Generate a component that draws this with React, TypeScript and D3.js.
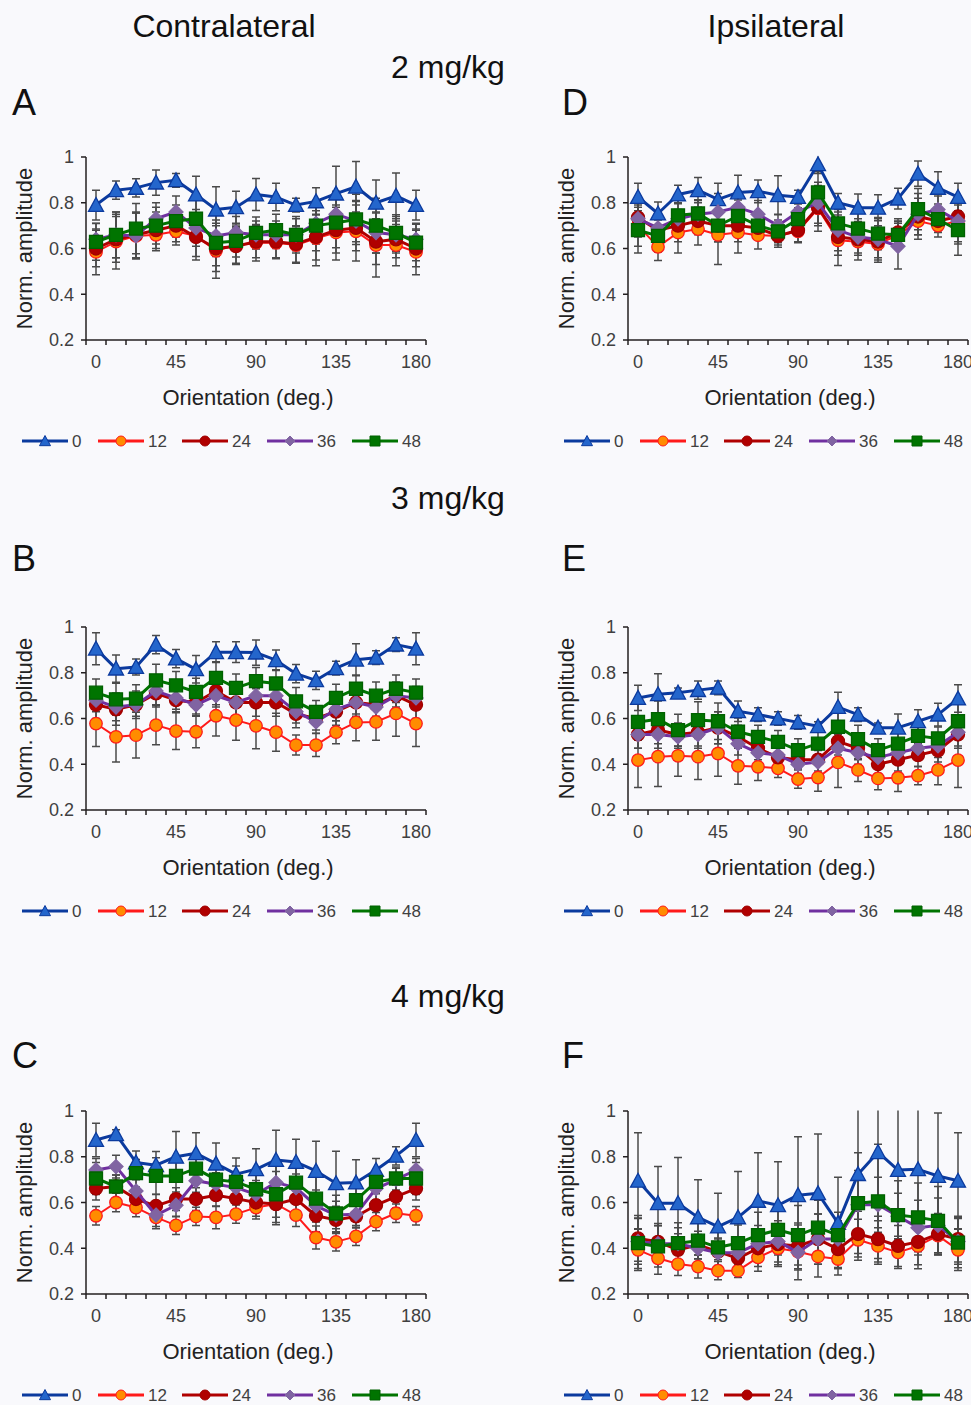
import React from 'react';
import * as d3 from 'd3';

// ---------- data ----------
const orientations = [0, 11.25, 22.5, 33.75, 45, 56.25, 67.5, 78.75, 90, 101.25, 112.5, 123.75, 135, 146.25, 157.5, 168.75, 180];
const xTickLabels = [0, 45, 90, 135, 180];
const yTicks = [0.2, 0.4, 0.6, 0.8, 1];
const seriesNames = ['0', '12', '24', '36', '48'];

// Panel A (Contralateral, 2 mg/kg)
const A0 = [0.79, 0.855, 0.865, 0.888, 0.898, 0.836, 0.77, 0.78, 0.836, 0.825, 0.79, 0.806, 0.84, 0.87, 0.80, 0.83, 0.79];
const A12 = [0.585, 0.63, 0.655, 0.66, 0.675, 0.655, 0.59, 0.615, 0.625, 0.625, 0.615, 0.645, 0.67, 0.675, 0.615, 0.615, 0.585];
const A24 = [0.60, 0.64, 0.66, 0.68, 0.70, 0.65, 0.60, 0.61, 0.63, 0.63, 0.62, 0.65, 0.68, 0.69, 0.63, 0.64, 0.60];
const A36 = [0.64, 0.66, 0.655, 0.73, 0.76, 0.69, 0.655, 0.67, 0.66, 0.66, 0.66, 0.71, 0.75, 0.72, 0.67, 0.66, 0.64];
const A48 = [0.629, 0.66, 0.687, 0.70, 0.72, 0.73, 0.625, 0.633, 0.668, 0.68, 0.66, 0.70, 0.713, 0.727, 0.70, 0.668, 0.626];
const A0e = [0.065, 0.04, 0.04, 0.055, 0.03, 0.08, 0.10, 0.07, 0.07, 0.06, 0.03, 0.06, 0.12, 0.11, 0.10, 0.10, 0.065];
const A12e = [0.10, 0.12, 0.10, 0.07, 0.06, 0.09, 0.12, 0.08, 0.08, 0.07, 0.08, 0.12, 0.12, 0.13, 0.14, 0.09, 0.10];
const A24e = [0.08, 0.10, 0.10, 0.08, 0.07, 0.10, 0.10, 0.08, 0.07, 0.07, 0.08, 0.10, 0.10, 0.10, 0.10, 0.08, 0.08];
const A36e = [0.07, 0.10, 0.10, 0.07, 0.07, 0.08, 0.09, 0.07, 0.06, 0.06, 0.07, 0.09, 0.10, 0.09, 0.09, 0.08, 0.07];
const A48e = [0.08, 0.10, 0.11, 0.08, 0.07, 0.10, 0.10, 0.07, 0.07, 0.07, 0.08, 0.11, 0.11, 0.11, 0.12, 0.08, 0.08];

// Panel D (Ipsilateral, 2 mg/kg)
const D0 = [0.825, 0.753, 0.836, 0.855, 0.815, 0.845, 0.85, 0.833, 0.825, 0.968, 0.80, 0.778, 0.778, 0.818, 0.927, 0.865, 0.825];
const D12 = [0.70, 0.607, 0.67, 0.685, 0.66, 0.67, 0.658, 0.655, 0.675, 0.775, 0.636, 0.63, 0.62, 0.658, 0.72, 0.70, 0.72];
const D24 = [0.735, 0.68, 0.70, 0.72, 0.70, 0.70, 0.69, 0.655, 0.68, 0.78, 0.65, 0.64, 0.63, 0.67, 0.74, 0.72, 0.74];
const D36 = [0.73, 0.69, 0.73, 0.75, 0.76, 0.78, 0.75, 0.70, 0.76, 0.80, 0.68, 0.65, 0.64, 0.61, 0.75, 0.77, 0.72];
const D48 = [0.68, 0.655, 0.745, 0.753, 0.70, 0.742, 0.70, 0.675, 0.728, 0.845, 0.71, 0.687, 0.665, 0.66, 0.772, 0.728, 0.68];
const D0e = [0.06, 0.05, 0.04, 0.055, 0.07, 0.075, 0.05, 0.085, 0.03, 0.04, 0.04, 0.06, 0.057, 0.045, 0.055, 0.07, 0.06];
const D12e = [0.09, 0.06, 0.09, 0.07, 0.13, 0.09, 0.06, 0.05, 0.05, 0.10, 0.11, 0.08, 0.08, 0.06, 0.08, 0.05, 0.10];
const D24e = [0.07, 0.05, 0.07, 0.06, 0.07, 0.07, 0.05, 0.04, 0.05, 0.08, 0.08, 0.06, 0.07, 0.06, 0.08, 0.05, 0.08];
const D36e = [0.08, 0.06, 0.07, 0.06, 0.08, 0.07, 0.06, 0.05, 0.05, 0.09, 0.09, 0.08, 0.09, 0.10, 0.09, 0.06, 0.09];
const D48e = [0.10, 0.07, 0.07, 0.06, 0.07, 0.07, 0.05, 0.05, 0.05, 0.09, 0.08, 0.07, 0.07, 0.06, 0.09, 0.05, 0.11];

// Panel B (Contralateral, 3 mg/kg)
const B0 = [0.905, 0.818, 0.825, 0.923, 0.862, 0.815, 0.89, 0.89, 0.888, 0.855, 0.796, 0.767, 0.82, 0.857, 0.866, 0.923, 0.905];
const B12 = [0.578, 0.52, 0.527, 0.571, 0.545, 0.542, 0.612, 0.593, 0.568, 0.54, 0.484, 0.484, 0.54, 0.583, 0.585, 0.622, 0.578];
const B24 = [0.66, 0.64, 0.66, 0.71, 0.68, 0.67, 0.72, 0.67, 0.67, 0.67, 0.62, 0.60, 0.63, 0.67, 0.66, 0.70, 0.66];
const B36 = [0.68, 0.65, 0.66, 0.72, 0.69, 0.66, 0.70, 0.67, 0.70, 0.70, 0.63, 0.585, 0.64, 0.67, 0.65, 0.70, 0.69];
const B48 = [0.713, 0.684, 0.687, 0.767, 0.745, 0.716, 0.778, 0.734, 0.763, 0.753, 0.675, 0.629, 0.69, 0.73, 0.70, 0.73, 0.713];
const B0e = [0.07, 0.06, 0.035, 0.04, 0.04, 0.06, 0.045, 0.045, 0.055, 0.045, 0.04, 0.04, 0.03, 0.07, 0.03, 0.03, 0.07];
const B12e = [0.10, 0.11, 0.10, 0.086, 0.08, 0.07, 0.088, 0.088, 0.10, 0.083, 0.044, 0.05, 0.05, 0.08, 0.08, 0.10, 0.10];
const B24e = [0.06, 0.07, 0.06, 0.06, 0.05, 0.05, 0.06, 0.06, 0.06, 0.06, 0.06, 0.05, 0.06, 0.06, 0.05, 0.06, 0.06];
const B36e = [0.05, 0.06, 0.05, 0.06, 0.05, 0.05, 0.05, 0.06, 0.05, 0.05, 0.05, 0.05, 0.05, 0.05, 0.05, 0.05, 0.05];
const B48e = [0.06, 0.07, 0.06, 0.07, 0.06, 0.06, 0.07, 0.06, 0.06, 0.06, 0.06, 0.05, 0.06, 0.06, 0.06, 0.06, 0.06];

// Panel E (Ipsilateral, 3 mg/kg)
const E0 = [0.69, 0.706, 0.713, 0.724, 0.734, 0.632, 0.617, 0.60, 0.583, 0.566, 0.65, 0.617, 0.56, 0.56, 0.588, 0.617, 0.687];
const E12 = [0.418, 0.433, 0.437, 0.433, 0.447, 0.393, 0.389, 0.382, 0.335, 0.342, 0.408, 0.375, 0.338, 0.341, 0.35, 0.375, 0.418];
const E24 = [0.53, 0.55, 0.53, 0.54, 0.56, 0.52, 0.47, 0.43, 0.42, 0.42, 0.50, 0.47, 0.40, 0.42, 0.44, 0.46, 0.53];
const E36 = [0.53, 0.53, 0.52, 0.53, 0.56, 0.49, 0.45, 0.44, 0.40, 0.41, 0.47, 0.45, 0.43, 0.45, 0.47, 0.48, 0.54];
const E48 = [0.585, 0.597, 0.549, 0.593, 0.588, 0.542, 0.52, 0.498, 0.462, 0.49, 0.564, 0.51, 0.462, 0.49, 0.524, 0.513, 0.588];
const E0e = [0.055, 0.09, 0.02, 0.04, 0.03, 0.045, 0.03, 0.03, 0.03, 0.02, 0.065, 0.03, 0.02, 0.06, 0.05, 0.05, 0.06];
const E12e = [0.12, 0.13, 0.09, 0.10, 0.10, 0.08, 0.06, 0.04, 0.04, 0.06, 0.11, 0.05, 0.05, 0.06, 0.04, 0.065, 0.12];
const E24e = [0.06, 0.06, 0.05, 0.06, 0.07, 0.05, 0.05, 0.04, 0.04, 0.05, 0.06, 0.05, 0.04, 0.05, 0.05, 0.05, 0.06];
const E36e = [0.06, 0.06, 0.05, 0.06, 0.07, 0.05, 0.05, 0.04, 0.04, 0.05, 0.06, 0.05, 0.04, 0.05, 0.05, 0.05, 0.06];
const E48e = [0.08, 0.08, 0.07, 0.08, 0.08, 0.06, 0.05, 0.05, 0.05, 0.05, 0.07, 0.06, 0.05, 0.05, 0.06, 0.05, 0.08];

// Panel C (Contralateral, 4 mg/kg)
const C0 = [0.873, 0.898, 0.775, 0.763, 0.80, 0.815, 0.77, 0.724, 0.745, 0.786, 0.777, 0.738, 0.684, 0.687, 0.742, 0.804, 0.873];
const C12 = [0.542, 0.60, 0.578, 0.535, 0.50, 0.539, 0.535, 0.549, 0.578, 0.593, 0.545, 0.447, 0.428, 0.452, 0.516, 0.553, 0.542];
const C24 = [0.661, 0.67, 0.615, 0.585, 0.615, 0.615, 0.632, 0.617, 0.60, 0.593, 0.615, 0.542, 0.524, 0.539, 0.588, 0.626, 0.661];
const C36 = [0.742, 0.757, 0.65, 0.545, 0.588, 0.695, 0.68, 0.665, 0.636, 0.687, 0.665, 0.585, 0.545, 0.549, 0.661, 0.70, 0.742];
const C48 = [0.705, 0.67, 0.728, 0.716, 0.716, 0.748, 0.70, 0.69, 0.658, 0.636, 0.687, 0.617, 0.552, 0.61, 0.69, 0.705, 0.705];
const C0e = [0.073, 0.02, 0.05, 0.06, 0.11, 0.09, 0.09, 0.07, 0.09, 0.13, 0.10, 0.13, 0.14, 0.10, 0.05, 0.04, 0.073];
const C12e = [0.04, 0.04, 0.04, 0.05, 0.04, 0.04, 0.05, 0.04, 0.05, 0.09, 0.05, 0.05, 0.04, 0.04, 0.04, 0.04, 0.04];
const C24e = [0.05, 0.05, 0.05, 0.05, 0.05, 0.05, 0.05, 0.05, 0.06, 0.08, 0.06, 0.07, 0.06, 0.05, 0.05, 0.05, 0.05];
const C36e = [0.05, 0.05, 0.05, 0.05, 0.05, 0.05, 0.05, 0.05, 0.06, 0.08, 0.06, 0.07, 0.06, 0.05, 0.05, 0.05, 0.05];
const C48e = [0.07, 0.05, 0.06, 0.08, 0.07, 0.06, 0.07, 0.07, 0.08, 0.10, 0.08, 0.10, 0.08, 0.06, 0.05, 0.05, 0.07];

// Panel F (Ipsilateral, 4 mg/kg)
const F0 = [0.695, 0.597, 0.597, 0.535, 0.495, 0.535, 0.607, 0.588, 0.632, 0.64, 0.51, 0.724, 0.82, 0.742, 0.745, 0.716, 0.695];
const F12 = [0.393, 0.356, 0.331, 0.32, 0.302, 0.302, 0.36, 0.40, 0.385, 0.364, 0.353, 0.437, 0.41, 0.382, 0.41, 0.455, 0.393];
const F24 = [0.443, 0.428, 0.393, 0.414, 0.385, 0.356, 0.40, 0.418, 0.41, 0.44, 0.396, 0.462, 0.44, 0.41, 0.428, 0.462, 0.44];
const F36 = [0.43, 0.42, 0.42, 0.40, 0.38, 0.38, 0.42, 0.43, 0.382, 0.44, 0.44, 0.59, 0.59, 0.54, 0.49, 0.50, 0.43];
const F48 = [0.422, 0.408, 0.422, 0.433, 0.404, 0.422, 0.457, 0.48, 0.457, 0.49, 0.457, 0.597, 0.605, 0.545, 0.535, 0.52, 0.425];
const F0e = [0.21, 0.16, 0.20, 0.165, 0.145, 0.20, 0.21, 0.19, 0.255, 0.26, 0.20, 0.30, 0.30, 0.30, 0.30, 0.275, 0.21];
const F12e = [0.09, 0.07, 0.05, 0.05, 0.04, 0.03, 0.06, 0.08, 0.08, 0.09, 0.07, 0.09, 0.08, 0.07, 0.10, 0.08, 0.09];
const F24e = [0.10, 0.08, 0.07, 0.06, 0.06, 0.05, 0.08, 0.09, 0.10, 0.11, 0.08, 0.10, 0.10, 0.09, 0.10, 0.09, 0.10];
const F36e = [0.10, 0.08, 0.07, 0.06, 0.06, 0.05, 0.08, 0.09, 0.12, 0.11, 0.08, 0.15, 0.12, 0.10, 0.12, 0.12, 0.10];
const F48e = [0.11, 0.09, 0.09, 0.08, 0.08, 0.08, 0.10, 0.11, 0.13, 0.12, 0.10, 0.22, 0.25, 0.15, 0.15, 0.15, 0.11];

// ---------- styling ----------
const FONT = '"Liberation Sans", Arial, Helvetica, sans-serif';
const BG = '#f9f9fc';

type Style = { line: string; width: number; fill: string; stroke: string; shape: string; size: number };
const styles: Style[] = [
  { line: '#0b3a9e', width: 3, fill: '#2466cc', stroke: '#0b3a9e', shape: 'triangle', size: 15 },
  { line: '#ff1a1a', width: 2, fill: '#ff8c00', stroke: '#ff1a1a', shape: 'circle', size: 12.5 },
  { line: '#b00000', width: 3, fill: '#b00000', stroke: '#a00000', shape: 'circle', size: 13 },
  { line: '#7030a0', width: 3, fill: '#8064a2', stroke: '#8064a2', shape: 'diamond', size: 14 },
  { line: '#007400', width: 3, fill: '#007400', stroke: '#006000', shape: 'square', size: 13 },
];

function markerPath(shape: string, s: number): string {
  const h = s / 2;
  if (shape === 'triangle') return `M0,${-h}L${h},${h * 0.85}L${-h},${h * 0.85}Z`;
  if (shape === 'square') return `M${-h},${-h}H${h}V${h}H${-h}Z`;
  if (shape === 'diamond') return `M0,${-h}L${h},0L0,${h}L${-h},0Z`;
  return `M${h},0A${h},${h} 0 1,1 ${-h},0A${h},${h} 0 1,1 ${h},0Z`;
}

type PanelDef = {
  id: string; x0: number; yTop: number;
  means: number[][]; errs: number[][];
};

const PLOT_H = 183;
const CAT_W = 20;

const panels: PanelDef[] = [
  { id: 'A', x0: 86, yTop: 157, means: [A0, A12, A24, A36, A48], errs: [A0e, A12e, A24e, A36e, A48e] },
  { id: 'D', x0: 628, yTop: 157, means: [D0, D12, D24, D36, D48], errs: [D0e, D12e, D24e, D36e, D48e] },
  { id: 'B', x0: 86, yTop: 627, means: [B0, B12, B24, B36, B48], errs: [B0e, B12e, B24e, B36e, B48e] },
  { id: 'E', x0: 628, yTop: 627, means: [E0, E12, E24, E36, E48], errs: [E0e, E12e, E24e, E36e, E48e] },
  { id: 'C', x0: 86, yTop: 1111, means: [C0, C12, C24, C36, C48], errs: [C0e, C12e, C24e, C36e, C48e] },
  { id: 'F', x0: 628, yTop: 1111, means: [F0, F12, F24, F36, F48], errs: [F0e, F12e, F24e, F36e, F48e] },
];

function Panel({ p }: { p: PanelDef }) {
  const x = d3.scaleBand<number>().domain(orientations).range([p.x0, p.x0 + CAT_W * orientations.length]).padding(0);
  const cx = (o: number) => (x(o) as number) + x.bandwidth() / 2;
  const y = d3.scaleLinear().domain([0.2, 1]).range([p.yTop + PLOT_H, p.yTop]);
  const yBot = y(0.2);
  const xEnd = p.x0 + CAT_W * orientations.length;
  const clipId = `clip-${p.id}`;
  const line = d3.line<number>().x((_, i) => cx(orientations[i])).y((d) => y(d));
  const boundaries = d3.range(orientations.length + 1).map((i) => p.x0 + i * x.bandwidth());

  return (
    <g>
      <defs>
        <clipPath id={clipId}>
          <rect x={p.x0 - 10} y={y(1) - 0.5} width={xEnd - p.x0 + 20} height={yBot - y(1) + 1} />
        </clipPath>
      </defs>
      {/* error bars */}
      <g clipPath={`url(#${clipId})`} stroke="#4a4a4a" strokeWidth={1.5}>
        {p.means.map((m, si) =>
          m.map((v, i) => {
            const e = p.errs[si][i];
            const X = cx(orientations[i]);
            const yt = y(v + e), yb = y(v - e);
            return (
              <g key={`${si}-${i}`}>
                <line x1={X} x2={X} y1={yt} y2={yb} />
                <line x1={X - 4} x2={X + 4} y1={yt} y2={yt} />
                <line x1={X - 4} x2={X + 4} y1={yb} y2={yb} />
              </g>
            );
          })
        )}
      </g>
      {/* series */}
      {p.means.map((m, si) => {
        const st = styles[si];
        return (
          <g key={si}>
            <path d={line(m) || ''} fill="none" stroke={st.line} strokeWidth={st.width} strokeLinejoin="round" />
            {m.map((v, i) => (
              <path key={i} transform={`translate(${cx(orientations[i])},${y(v)})`}
                d={markerPath(st.shape, st.size)}
                fill={st.fill} stroke={st.stroke} strokeWidth={1.3} />
            ))}
          </g>
        );
      })}
      {/* axes */}
      <g stroke="#231f20" strokeWidth={1.5}>
        <line x1={p.x0} x2={p.x0} y1={y(1)} y2={yBot} />
        <line x1={p.x0} x2={xEnd} y1={yBot} y2={yBot} />
        {yTicks.map((t) => (
          <line key={t} x1={p.x0 - 5} x2={p.x0} y1={y(t)} y2={y(t)} />
        ))}
        {boundaries.map((bx, i) => (
          <line key={i} x1={bx} x2={bx} y1={yBot} y2={yBot + 5} />
        ))}
      </g>
      <g fontFamily={FONT} fontSize={18} fill="#404040">
        {yTicks.map((t) => (
          <text key={t} x={p.x0 - 12} y={y(t)} dy="0.35em" textAnchor="end">{t === 1 ? '1' : t.toFixed(1)}</text>
        ))}
        {xTickLabels.map((t) => (
          <text key={t} x={cx(orientations[orientations.indexOf(t)])} y={yBot + 28} textAnchor="middle">{t}</text>
        ))}
      </g>
      <text x={(p.x0 + xEnd) / 2 - 8} y={yBot + 65} textAnchor="middle" fontFamily={FONT} fontSize={22} fill="#222">Orientation (deg.)</text>
      <text transform={`translate(${p.x0 - 54},${(y(1) + yBot) / 2}) rotate(-90)`} textAnchor="middle" fontFamily={FONT} fontSize={22} fill="#222">Norm. amplitude</text>
      <Legend x0={p.x0 - 64} y0={yBot + 101} />
    </g>
  );
}

const legendOffsets = [0, 76, 160, 245, 330];

function Legend({ x0, y0 }: { x0: number; y0: number }) {
  return (
    <g>
      {seriesNames.map((n, i) => {
        const st = styles[i];
        const lx = x0 + legendOffsets[i];
        return (
          <g key={n}>
            <line x1={lx} x2={lx + 46} y1={y0} y2={y0} stroke={st.line} strokeWidth={3} />
            <path transform={`translate(${lx + 23},${y0})`} d={markerPath(st.shape, st.shape === 'triangle' ? 11 : 10)}
              fill={st.fill} stroke={st.stroke} strokeWidth={1} />
            <text x={lx + 50} y={y0} dy="0.36em" fontFamily={FONT} fontSize={17} fill="#404040">{n}</text>
          </g>
        );
      })}
    </g>
  );
}

const headers = [
  { text: 'Contralateral', x: 224, y: 37, size: 32 },
  { text: 'Ipsilateral', x: 776, y: 37, size: 32 },
  { text: '2 mg/kg', x: 448, y: 78, size: 32 },
  { text: '3 mg/kg', x: 448, y: 509, size: 32 },
  { text: '4 mg/kg', x: 448, y: 1007, size: 32 },
];
const letters = [
  { text: 'A', x: 12, y: 115 }, { text: 'D', x: 562, y: 115 },
  { text: 'B', x: 12, y: 571 }, { text: 'E', x: 562, y: 571 },
  { text: 'C', x: 12, y: 1068 }, { text: 'F', x: 562, y: 1068 },
];

export default function App() {
  return (
    <div style={{ position: 'absolute', left: 0, top: 0 }}>
      <svg width={971} height={1405} style={{ display: 'block' }}>
        <rect width={971} height={1405} fill={BG} />
        {headers.map((h) => (
          <text key={h.text} x={h.x} y={h.y} textAnchor="middle" fontFamily={FONT} fontSize={h.size} fill="#111">{h.text}</text>
        ))}
        {letters.map((l) => (
          <text key={l.text} x={l.x} y={l.y} fontFamily={FONT} fontSize={36} fill="#111">{l.text}</text>
        ))}
        {panels.map((p) => (
          <Panel key={p.id} p={p} />
        ))}
      </svg>
    </div>
  );
}
